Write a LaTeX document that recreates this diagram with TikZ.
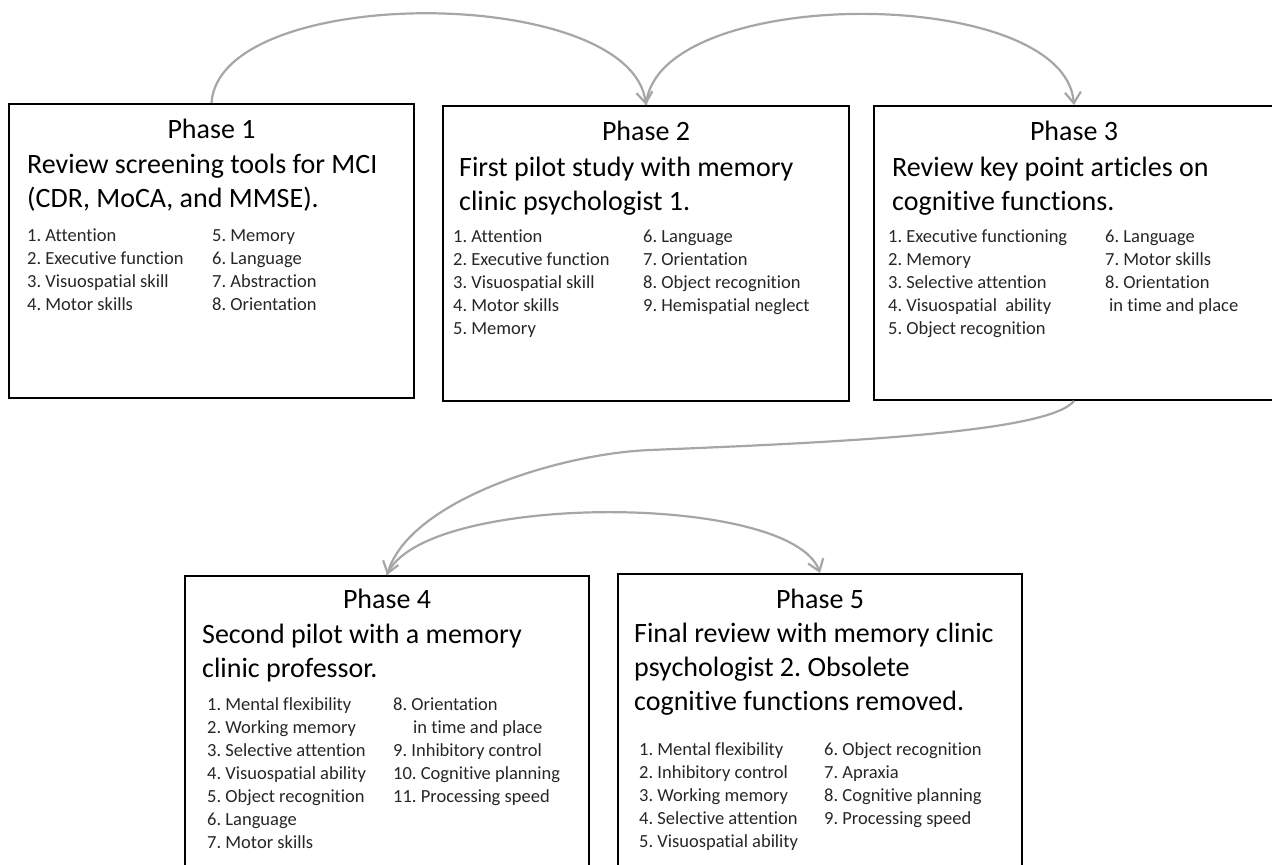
\documentclass[tikz,border=0pt]{standalone}
\usepackage{fontspec}
\setmainfont{Carlito}[Ligatures=NoCommon]
\usetikzlibrary{arrows.meta, positioning, calc}
\definecolor{flowgray}{RGB}{166,166,166}
\newcommand{\phaselines}[1]{\parbox[t]{15cm}{\raggedright #1}}
\frenchspacing

\begin{document}
\begin{tikzpicture}[x=1bp,y=-1bp,
    phasebox/.style={draw=black,line width=2bp,inner sep=0pt,anchor=north west},
    phasehead/.style={anchor=base,inner sep=0pt,font=\fontsize{28bp}{34bp}\selectfont},
    phasetitle/.style={anchor=base west,inner sep=0pt,font=\fontsize{28bp}{34bp}\selectfont},
    funclist/.style={anchor=base west,inner sep=0pt,text=black!85,font=\fontsize{18.5bp}{23bp}\selectfont},
    flow/.style={draw=flowgray,line width=2.2bp,-{Straight Barb[length=11bp,width=16bp]}}]
    \useasboundingbox (0,0) rectangle (1272,865);
    \clip (0,0) rectangle (1272,865);

    % Phase boxes
    \node[phasebox,minimum width=405bp,minimum height=294bp] (p1) at (8,103) {};
    \node[phasebox,minimum width=406bp,minimum height=295bp] (p2) at (442,105) {};
    \node[phasebox,minimum width=400bp,minimum height=294bp] (p3) at (873,105) {};
    \node[phasebox,minimum width=404bp,minimum height=320bp] (p4) at (184,575) {};
    \node[phasebox,minimum width=404bp,minimum height=320bp] (p5) at (617,573) {};

    % Phase 1
    \node[phasehead] (h1) at ($(p1.north)+(0,35)$) {Phase 1};
    \node[phasetitle] (t1) at ($(p1.north west)+(19,70)$) {\phaselines{Review screening tools for MCI\\(CDR, MoCA, and MMSE).}};
    \node[funclist] (l1a) at ($(p1.north west)+(19,138)$) {\phaselines{1. Attention\\2. Executive function\\3. Visuospatial skill\\4. Motor skills}};
    \node[funclist] (l1b) at ($(p1.north west)+(204,138)$) {\phaselines{5. Memory\\6. Language\\7. Abstraction\\8. Orientation}};

    % Phase 2
    \node[phasehead] (h2) at ($(p2.north)+(0,35)$) {Phase 2};
    \node[phasetitle] (t2) at ($(p2.north west)+(17,71)$) {\phaselines{First pilot study with memory\\clinic psychologist 1.}};
    \node[funclist] (l2a) at ($(p2.north west)+(11,137)$) {\phaselines{1. Attention\\2. Executive function\\3. Visuospatial skill\\4. Motor skills\\5. Memory}};
    \node[funclist] (l2b) at ($(p2.north west)+(201,137)$) {\phaselines{6. Language\\7. Orientation\\8. Object recognition\\9. Hemispatial neglect}};

    % Phase 3
    \node[phasehead] (h3) at ($(p3.north)+(0,35)$) {Phase 3};
    \node[phasetitle] (t3) at ($(p3.north west)+(19,71)$) {\phaselines{Review key point articles on\\cognitive functions.}};
    \node[funclist] (l3a) at ($(p3.north west)+(15,137)$) {\phaselines{1. Executive functioning\\2. Memory\\3. Selective attention\\4. Visuospatial\ \ ability\\5. Object recognition}};
    \node[funclist] (l3b) at ($(p3.north west)+(232,137)$) {\phaselines{6. Language\\7. Motor skills\\8. Orientation\\\hspace*{4bp}in time and place}};

    % Phase 4
    \node[phasehead] (h4) at ($(p4.north)+(0,33)$) {Phase 4};
    \node[phasetitle] (t4) at ($(p4.north west)+(18,68)$) {\phaselines{Second pilot with a memory\\clinic professor.}};
    \node[funclist] (l4a) at ($(p4.north west)+(23,135)$) {\phaselines{1. Mental flexibility\\2. Working memory\\3. Selective attention\\4. Visuospatial ability\\5. Object recognition\\6. Language\\7. Motor skills}};
    \node[funclist] (l4b) at ($(p4.north west)+(209,135)$) {\phaselines{8. Orientation\\\hspace*{20bp}in time and place\\9. Inhibitory control\\10. Cognitive planning\\11. Processing speed}};

    % Phase 5
    \node[phasehead] (h5) at ($(p5.north)+(0,35)$) {Phase 5};
    \node[phasetitle] (t5) at ($(p5.north west)+(17,69)$) {\phaselines{Final review with memory clinic\\psychologist 2. Obsolete\\cognitive functions removed.}};
    \node[funclist] (l5a) at ($(p5.north west)+(22,182)$) {\phaselines{1. Mental flexibility\\2. Inhibitory control\\3. Working memory\\4. Selective attention\\5. Visuospatial ability}};
    \node[funclist] (l5b) at ($(p5.north west)+(207,182)$) {\phaselines{6. Object recognition\\7. Apraxia\\8. Cognitive planning\\9. Processing speed}};

    % Arrows between phases
    \coordinate (bend) at (650,450);
    \draw[flow] (p1.north) .. controls +(8,-120) and +(-15,-121) .. (p2.north);
    \draw[flow] (p2.north) .. controls +(10,-121) and +(-10,-121) .. (p3.north);
    \draw[flow] (p3.south) .. controls +(-25,31) and +(200,-8) .. (bend)
        .. controls +(-90,3.6) and +(23,-75) .. (p4.north);
    \draw[flow] (p4.north) .. controls +(33,-83) and +(-29,-81) .. (p5.north);
\end{tikzpicture}
\end{document}
